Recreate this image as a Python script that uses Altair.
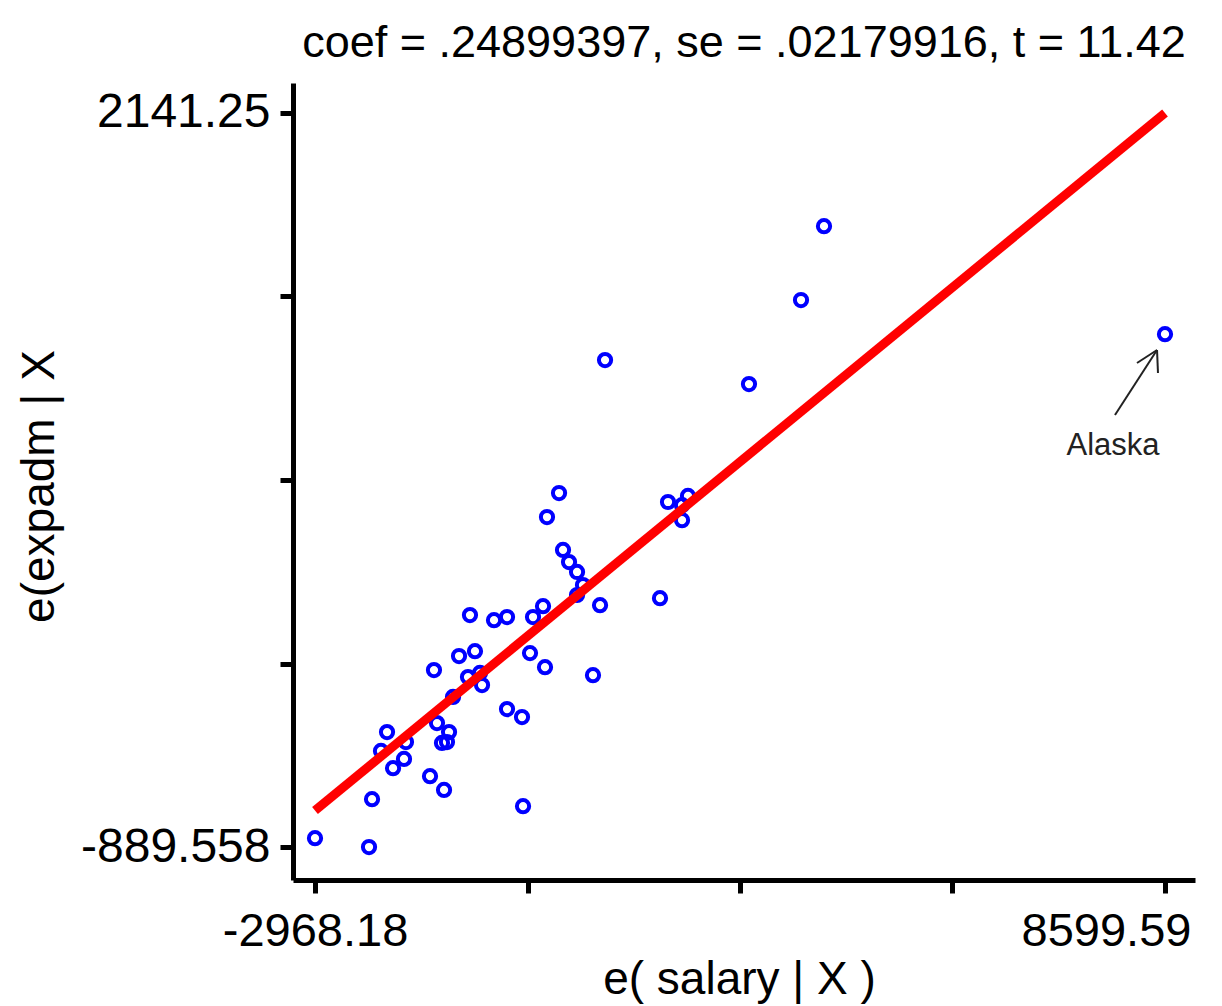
import altair as alt
import pandas as pd

# residual data
res_salary = [-2968.18, -2233, -2192, -1988, -2070, -1906, -1757, -1730, -1403, -1212,
              -1308, -1144, -1240, -1172, -1090, -859, -532, -355, -1, 135,
              -1008, -791, -1349, -886, -723, -695, -42, 162, -355, -151,
              -137, 353, 189, 407, 489, 598, 679, 598, 911, 1727,
              815, 1836, 2108, 2027, 2027, 979, 2938, 3646, 3959, 8599.59]
res_expadm = [-853, -889.558, -692, -415, -493, -564, -526, -456, -597, -654,
              -378, -415, -460, -456, -270, 68, 47, 60, 60, 105,
              -101, -81, -159, -188, -171, -221, -89, -147, -320, -353,
              -721, 572, 473, 337, 287, 246, 192, 151, 109, 138,
              -180, 535, 560, 522, 460, 1121, 1022, 1369, 1674, 1228]

fit_x = [-2968.18, 8599.59]
fit_y = [-739.05, 2141.25]

x_ticks = [-2968.18, -76.24, 2815.71, 5707.65, 8599.59]
x_tick_labels = ["-2968.18", "", "", "", "8599.59"]
y_ticks = [-889.558, -131.856, 625.846, 1383.548, 2141.25]
y_tick_labels = ["-889.558", "", "", "", "2141.25"]

x_domain = [-3267.6, 9007.9]
y_domain = [-1025.8, 2265.1]

# annotation arrow (data units): shaft, two wings
arrow_x = [7919, 8218.6, 8504]
arrow_y = [894, 1109, 1067.6]
arrow_tip_x = 8491
arrow_tip_y = 1162.6
label_text = "Alaska"
label_x = 7892
label_y = 729

title_text = "coef = .24899397, se = .02179916, t = 11.42"

FONT = "Liberation Sans"

pts = pd.DataFrame({"x": res_salary, "y": res_expadm})
fit = pd.DataFrame({"x": fit_x, "y": fit_y})
arrow = pd.DataFrame({"x": arrow_x, "y": arrow_y,
                      "x2": [arrow_tip_x] * 3, "y2": [arrow_tip_y] * 3})
lab = pd.DataFrame({"x": [label_x], "y": [label_y], "t": [label_text]})

def lbl_expr(labels):
    arr = "[" + ",".join("'" + s + "'" for s in labels) + "]"
    return arr + "[round(datum.index*" + str(len(labels) - 1) + ")]"

xscale = alt.Scale(domain=x_domain, nice=False, zero=False)
yscale = alt.Scale(domain=y_domain, nice=False, zero=False)

xaxis = alt.Axis(values=x_ticks, labelExpr=lbl_expr(x_tick_labels), grid=False,
                 domainColor="black", domainWidth=5, tickColor="black", tickWidth=5,
                 tickSize=13, labelFont=FONT, labelFontSize=47, labelColor="black",
                 labelBaseline="alphabetic", labelPadding=52, labelFlush=False,
                 labelOverlap=False, labelAlign="center", labelLimit=1000,
                 labelOffset={"condition": {"test": "datum.value > 8000", "value": -59}, "value": 0},
                 title="e( salary | X )", titleFont=FONT, titleFontSize=46,
                 titleFontWeight="normal", titleColor="black",
                 titleBaseline="alphabetic", titleX=446, titleY=113, titleAnchor="middle")
yaxis = alt.Axis(values=y_ticks, labelExpr=lbl_expr(y_tick_labels), grid=False,
                 domainColor="black", domainWidth=5, tickColor="black", tickWidth=5,
                 tickSize=13, labelFont=FONT, labelFontSize=48, labelColor="black",
                 labelBaseline="middle", labelAlign="right", labelPadding=10,
                 labelFlush=False, labelOverlap=False, labelLimit=1000,
                 title="e(expadm | X", titleFont=FONT, titleFontSize=46,
                 titleFontWeight="normal", titleColor="black", titleAngle=-90,
                 titleBaseline="alphabetic", titleX=-240, titleY=403, titleAlign="center")

base_x = alt.X("x:Q", scale=xscale, axis=xaxis)
base_y = alt.Y("y:Q", scale=yscale, axis=yaxis)

points = alt.Chart(pts).mark_point(shape="circle", filled=False, color="#0000ff",
                                   strokeWidth=4, size=150, opacity=1).encode(x=base_x, y=base_y)
line = alt.Chart(fit).mark_line(color="#ff0000", strokeWidth=9).encode(
    x=alt.X("x:Q", scale=xscale), y=alt.Y("y:Q", scale=yscale))
arr = alt.Chart(arrow).mark_rule(color="#222222", strokeWidth=2).encode(
    x=alt.X("x:Q", scale=xscale), y=alt.Y("y:Q", scale=yscale), x2="x2:Q", y2="y2:Q")
txt = alt.Chart(lab).mark_text(font="Liberation Sans", fontSize=31, color="#222222",
                               baseline="alphabetic", align="center").encode(
    x=alt.X("x:Q", scale=xscale), y=alt.Y("y:Q", scale=yscale), text="t:N")

chart = alt.layer(points, line, arr, txt).properties(
    width=902, height=797,
    background="white",
    title=alt.Title(title_text, font=FONT, fontSize=45, fontWeight="normal", color="black",
                    anchor="middle", frame="group", baseline="alphabetic", offset=26, dy=45),
    autosize=alt.AutoSizeParams(type="none"),
    padding={"left": 293, "top": 83, "right": 27, "bottom": 126},
).configure_view(strokeWidth=0, stroke="transparent")

chart.save("out.html", embed_options={"renderer": "svg", "actions": False})
